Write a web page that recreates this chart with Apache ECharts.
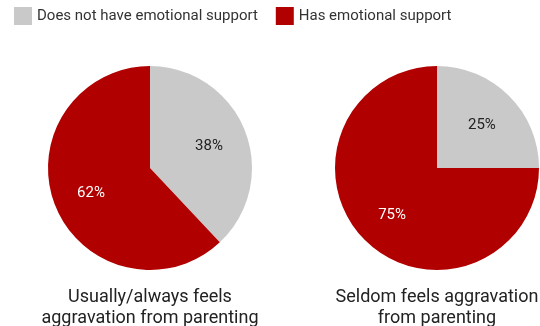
<!DOCTYPE html>
<html>
<head>
<meta charset="utf-8">
<script src="https://cdn.jsdelivr.net/npm/echarts@6/dist/echarts.min.js"></script>
<style>
  html, body { margin: 0; padding: 0; background: #ffffff; }
  #chart { width: 540px; height: 326px; }
</style>
</head>
<body>
<div id="chart"></div>
<script>
// Categories shared by both pies
const categories = ['Does not have emotional support', 'Has emotional support'];
// Share of parents (%) in each group
const usuallyValues = [38, 62];
const seldomValues = [25, 75];
const groupTitles = ['Usually/always feels\naggravation from parenting', 'Seldom feels aggravation\nfrom parenting'];

const sliceColors = ['#c9c9c9', '#b00000'];
const labelColors = ['#222222', '#ffffff'];
const FONT = 'Roboto, "Noto Sans", sans-serif';

const centers = [[150, 168], [437, 168]];
const groups = [usuallyValues, seldomValues];

function pieData(values, withLabels) {
  return categories.map((name, i) => ({
    name: name,
    value: values[i],
    itemStyle: { color: withLabels ? 'rgba(0,0,0,0)' : sliceColors[i] },
    label: { color: labelColors[i] }
  }));
}

const series = [];
groups.forEach((values, g) => {
  // filled pie
  series.push({
    type: 'pie',
    center: centers[g],
    radius: [0, 102],
    startAngle: 90,
    clockwise: true,
    animation: false,
    silent: true,
    label: { show: false },
    labelLine: { show: false },
    itemStyle: { borderWidth: 0 },
    data: pieData(values, false)
  });
});
groups.forEach((values, g) => {
  // transparent wider ring used only to place the percentage labels
  series.push({
    type: 'pie',
    center: centers[g],
    radius: [0, 121],
    startAngle: 90,
    clockwise: true,
    animation: false,
    silent: true,
    label: {
      show: true,
      position: 'inside',
      formatter: p => p.value + '%',
      fontFamily: FONT,
      fontSize: 15
    },
    labelLayout: { dy: 2 },
    labelLine: { show: false },
    emphasis: { disabled: true },
    itemStyle: { borderWidth: 0 },
    data: pieData(values, true)
  });
});

const chart = echarts.init(document.getElementById('chart'), null, { renderer: 'canvas' });
chart.setOption({
  backgroundColor: '#ffffff',
  animation: false,
  legend: {
    data: categories,
    left: 14,
    top: 7,
    padding: 0,
    itemWidth: 18,
    itemHeight: 18,
    itemGap: 18,
    icon: 'rect',
    selectedMode: false,
    textStyle: { fontFamily: FONT, fontSize: 15, color: '#333333' }
  },
  title: groupTitles.map((t, g) => ({
    text: t,
    left: centers[g][0],
    top: 287,
    padding: 0,
    textAlign: 'center',
    textStyle: { fontFamily: FONT, fontSize: 18, fontWeight: 'normal', color: '#222222', lineHeight: 21 }
  })),
  series: series
});
</script>
</body>
</html>
